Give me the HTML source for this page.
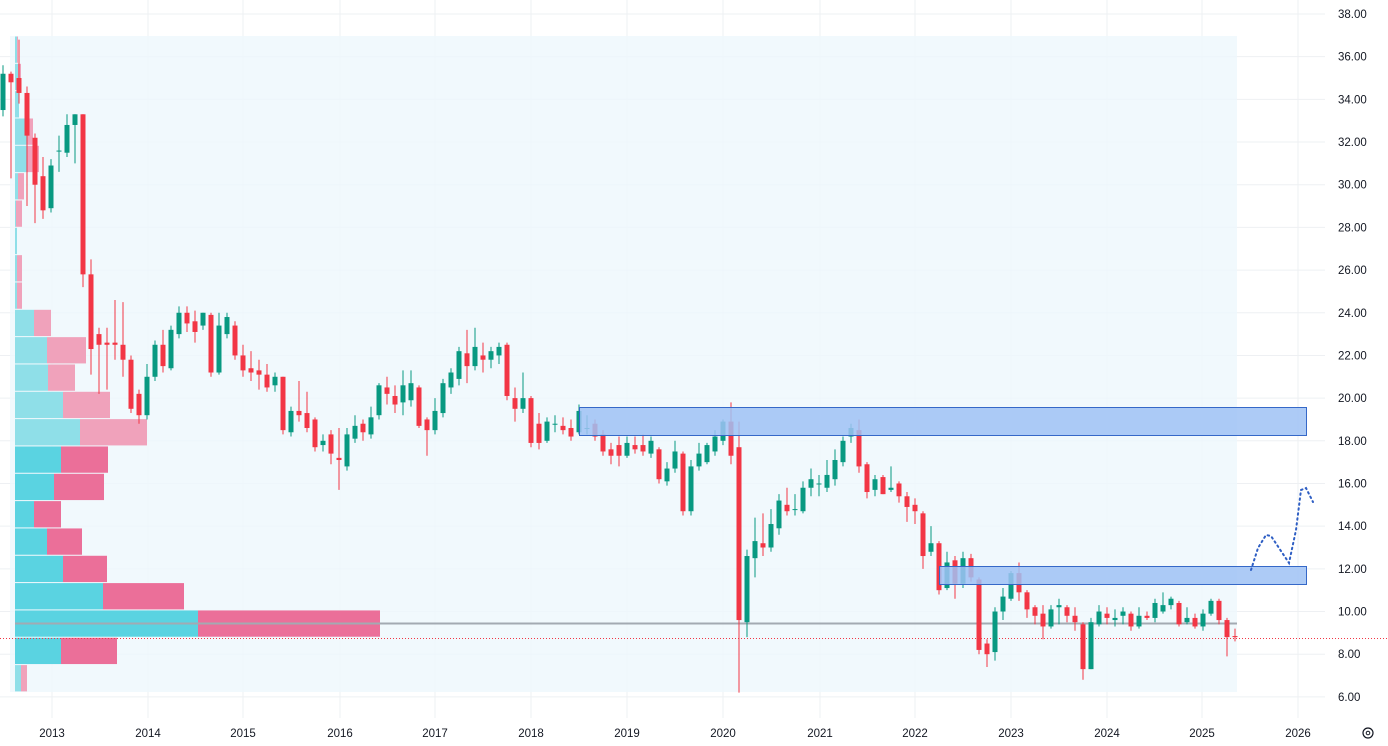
<!DOCTYPE html>
<html><head><meta charset="utf-8"><style>
html,body{margin:0;padding:0;background:#fff;width:1388px;height:746px;overflow:hidden}
svg{display:block;font-family:"Liberation Sans",sans-serif}
</style></head><body>
<svg id="s" width="1388" height="746" xmlns="http://www.w3.org/2000/svg"></svg>
<script>
const s=document.getElementById('s');
let h='';
const Y=p=>14+(38-p)*21.34;
for(let p=6;p<=38;p+=2){const y=Y(p);h+=`<line x1="0" y1="${y}" x2="1325" y2="${y}" stroke="#eef0f3" stroke-width="1"/>`;
h+=`<text x="1338" y="${y+4}" font-size="11.5" fill="#131722">${p.toFixed(2)}</text>`;}
const yrs=[[2013,52],[2014,148],[2015,243],[2016,340],[2017,435],[2018,531],[2019,627],[2020,723],[2021,820],[2022,915],[2023,1011],[2024,1107],[2025,1202],[2026,1298]];
yrs.forEach(([t,x])=>{h+=`<line x1="${x}" y1="0" x2="${x}" y2="718" stroke="#eef0f3"/>`;h+=`<text x="${x}" y="737" font-size="11.5" fill="#131722" text-anchor="middle">${t}</text>`;});
h+=`<rect x="10" y="36" width="1227" height="656" fill="#eef8fd" opacity="0.8"/>`;
const rows=[[2,3],[3,6],[4,4],[12,18],[12,24],[3,9],[1,7],[2,2],[2,7],[2,7],[19,36],[32,71],[33,60],[48,95],[65,132],[46,93],[39,89],[19,46],[32,67],[48,92],[88,169],[183,365],[46,102],[6,12]];
rows.forEach((r,i)=>{const y0=36+i*27.33;const sat=i>=15&&i<=22;
const c1=sat?'#5ad3e1':'#8fdfe8',c2=sat?'#eb6f99':'#f0a2bb';
h+=`<rect x="15" y="${y0+0.5}" width="${r[0]}" height="26.3" fill="${c1}"/>`;
h+=`<rect x="${15+r[0]}" y="${y0+0.5}" width="${r[1]-r[0]}" height="26.3" fill="${c2}"/>`;});
h+=`<line x1="15" y1="623.5" x2="1237" y2="623.5" stroke="#a3aab2" stroke-width="2"/>`;
h+=`<line x1="0" y1="638.5" x2="1388" y2="638.5" stroke="#f23645" stroke-width="1" stroke-dasharray="1,2"/>`;
const d=[
[33.5,35.2,35.6,33.2],[35.2,34.8,35.3,30.3],[35.0,34.3,36.8,33.8],[34.3,32.3,34.6,29.0],[32.2,30.0,32.4,28.2],[30.4,28.8,31.3,28.4],
[28.9,30.9,31.2,28.7],[31.6,31.6,32.3,30.6],[31.5,32.8,33.3,31.3],[32.8,33.3,33.3,31.0],[33.3,25.8,33.3,25.2],[25.8,22.3,26.5,21.1],
[23.0,22.5,23.3,20.2],[22.6,22.5,23.3,20.4],[22.6,22.5,24.6,21.8],[22.5,21.8,24.5,21.0],[21.8,19.5,22.0,19.3],[20.2,19.2,20.4,18.8],
[19.2,21.0,21.6,19.0],[21.0,22.5,22.7,20.8],[22.5,21.5,23.2,21.2],[21.4,23.2,23.4,21.3],[23.0,24.0,24.3,22.8],[24.0,23.5,24.3,23.1],
[23.6,23.1,24.1,22.6],[23.4,24.0,24.0,23.2],[23.9,21.2,24.0,21.0],[21.2,23.4,24.0,21.1],[23.0,23.8,24.0,22.8],[23.4,22.0,23.6,21.8],
[22.0,21.3,22.5,21.0],[21.4,21.2,22.2,20.8],[21.3,21.1,21.8,20.4],[21.1,20.5,21.6,20.3],[20.6,21.0,21.2,20.3],[21.0,18.5,21.0,18.3],
[18.4,19.4,19.6,18.2],[19.4,19.2,20.8,18.9],[19.3,18.6,20.3,18.4],[19.0,17.7,19.1,17.5],[17.8,18.0,18.3,17.5],[18.3,17.4,18.5,16.9],
[17.2,17.1,18.6,15.7],[16.8,18.3,18.6,16.6],[18.1,18.7,19.2,17.9],[18.8,18.4,19.0,18.0],[18.3,19.1,19.6,18.1],[19.2,20.6,20.7,19.0],
[20.5,20.2,21.0,19.7],[20.1,19.7,20.6,19.3],[19.8,20.6,21.3,19.2],[19.9,20.7,21.3,19.6],[20.5,18.7,20.6,18.6],[19.0,18.5,19.1,17.3],[18.5,19.4,20.0,18.3],
[19.3,20.7,20.9,19.1],[20.5,21.2,21.4,20.2],[20.9,22.2,22.4,20.6],[22.1,21.5,23.2,20.7],[21.5,22.4,23.3,21.3],[22.0,21.8,22.6,21.2],
[21.8,22.2,22.4,21.4],[22.0,22.4,22.6,21.6],[22.5,20.1,22.6,19.9],[20.0,19.5,20.5,18.9],[19.5,20.0,21.2,19.3],[20.0,17.9,20.1,17.7],
[18.8,17.9,19.3,17.6],[18.0,18.9,19.1,17.9],[18.8,18.8,19.2,18.4],[18.7,18.5,19.1,18.3],[18.6,18.2,19.0,18.0],[18.4,19.4,19.7,18.3],
[18.6,18.6,19.2,18.3],[18.8,18.2,19.0,18.0],[18.3,17.5,18.5,17.3],[17.6,17.3,17.9,16.9],[17.8,17.3,18.2,16.8],[17.3,17.9,18.2,17.2],
[17.8,17.6,18.2,17.4],[17.8,17.5,18.3,17.3],[17.4,18.0,18.2,17.2],[17.6,16.2,17.7,16.0],[16.1,16.7,17.0,15.9],[16.7,17.5,18.0,16.5],
[17.4,14.7,17.5,14.5],[14.7,16.8,17.1,14.5],[16.8,17.4,17.9,16.6],[17.0,17.8,17.9,16.9],[17.5,18.2,18.5,17.3],[18.0,18.9,19.0,17.8],
[18.9,17.3,19.8,16.9],[17.7,9.6,18.9,6.2],[9.5,12.6,12.9,8.8],[12.5,13.3,14.4,11.6],[13.2,13.0,14.6,12.6],[13.0,14.1,14.8,12.8],
[13.9,15.2,15.5,13.6],[15.0,14.7,15.8,14.5],[14.8,14.8,15.5,14.5],[14.7,15.8,16.1,14.6],[15.8,16.2,16.7,15.4],[16.0,16.0,16.4,15.4],
[15.8,16.4,17.1,15.6],[16.2,17.1,17.6,15.9],[17.0,18.0,18.2,16.8],[18.2,18.6,18.8,17.9],[18.5,16.8,19.0,16.5],[16.9,15.6,17.0,15.3],
[15.7,16.2,16.4,15.4],[16.3,15.5,16.4,15.5],[15.7,15.8,16.8,15.6],[16.0,15.4,16.1,15.1],[15.4,14.9,15.6,14.2],[15.0,14.7,15.3,14.1],
[14.6,12.6,14.7,12.0],[12.8,13.2,14.0,12.6],[13.2,11.0,13.3,10.8],[11.1,12.3,12.8,11.0],[12.4,11.3,12.6,10.6],[11.3,12.5,12.8,11.1],
[12.5,11.6,12.7,11.4],[11.5,8.2,11.6,8.0],[8.5,8.0,8.7,7.4],[8.1,10.0,10.2,7.7],[10.0,10.7,11.1,9.6],[10.6,11.8,11.9,10.5],
[11.8,10.9,12.3,10.5],[10.9,10.1,11.0,9.7],[10.2,9.8,10.3,9.4],[9.9,9.3,10.3,8.7],[9.3,10.1,10.3,9.2],[10.2,10.3,10.6,9.4],
[10.2,9.8,10.3,9.5],[9.8,9.5,10.2,9.1],[9.4,7.3,9.5,6.8],[7.3,9.5,9.7,7.3],[9.4,10.0,10.3,9.3],[9.9,9.7,10.2,9.4],
[9.6,9.7,10.1,9.3],[9.8,10.0,10.2,9.4],[9.9,9.3,10.0,9.1],[9.3,9.8,10.2,9.2],[9.8,9.7,10.0,9.6],[9.7,10.4,10.6,9.5],
[10.0,10.3,10.9,9.9],[10.3,10.6,10.7,10.1],[10.4,9.4,10.5,9.3],[9.5,9.7,10.2,9.4],[9.7,9.3,9.9,9.2],[9.3,9.9,10.1,9.1],
[9.9,10.5,10.6,9.8],[10.5,9.6,10.6,9.4],[9.6,8.8,9.7,7.9],[8.85,8.8,9.2,8.6]];
d.forEach((c,i)=>{const x=3+i*8;const [o,cl,hi,lo]=c;const up=cl>=o;const col=up?'#089981':'#f23645';
const yt=Y(Math.max(o,cl)),yb=Y(Math.min(o,cl));
h+=`<line x1="${x}" y1="${Y(hi)}" x2="${x}" y2="${Y(lo)}" stroke="${col}" stroke-width="1"/>`;
h+=`<rect x="${x-2.5}" y="${yt}" width="5" height="${Math.max(1,yb-yt)}" fill="${col}"/>`;});
h+=`<rect x="579.5" y="407.5" width="727" height="28" fill="#9fc2f5" fill-opacity="0.85" stroke="#3568c8" stroke-width="1"/>`;
h+=`<rect x="939.5" y="566.5" width="367" height="18" fill="#9fc2f5" fill-opacity="0.85" stroke="#3568c8" stroke-width="1"/>`;
h+=`<polyline points="1251,570 1258,548 1266,535 1271,536 1289,563 1296,530 1301,490 1306,488 1313,502" fill="none" stroke="#2f5fc4" stroke-width="2" stroke-dasharray="1.5,3.5" stroke-linecap="round"/>`;
h+=`<circle cx="1368" cy="733" r="5" fill="none" stroke="#131722" stroke-width="1.2"/><circle cx="1368" cy="733" r="1.8" fill="none" stroke="#131722"/>`;
s.innerHTML=h;
</script>
</body></html>
